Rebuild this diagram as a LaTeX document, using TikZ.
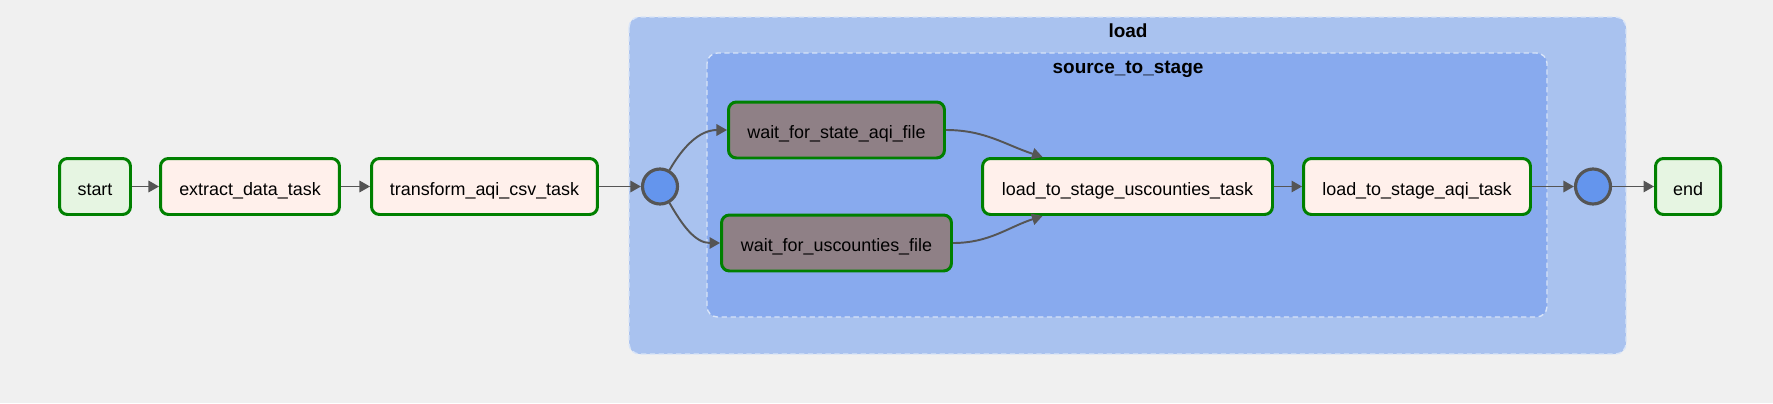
\documentclass[tikz,border=0pt]{standalone}
\usepackage{fontspec}
\setmainfont{Liberation Sans}
\usetikzlibrary{arrows.meta}
\definecolor{bggray}{HTML}{F0F0F0}
\definecolor{loadfill}{HTML}{A9C2EF}
\definecolor{stagefill}{HTML}{88AAEE}
\definecolor{taskfill}{HTML}{FFF0EB}
\definecolor{endfill}{HTML}{E6F5E2}
\definecolor{sensorfill}{HTML}{8F8086}
\definecolor{joinfill}{HTML}{6495ED}
\definecolor{okgreen}{HTML}{008000}
\definecolor{edgegray}{HTML}{555555}
\tikzset{
  task/.style={draw=okgreen,line width=1.7pt,rounded corners=4.5pt,fill=taskfill,
    minimum height=1.12cm,inner sep=0pt,text height=1em,text depth=0pt},
  endpt/.style={task,fill=endfill},
  sensor/.style={task,fill=sensorfill},
  joinpt/.style={circle,draw=edgegray,line width=1.8pt,fill=joinfill,minimum size=.7cm,inner sep=0pt},
  group/.style={draw=white!55!loadfill,line width=.8pt,dash pattern=on 3pt off 2pt,rounded corners=6pt},
  grouptitle/.style={anchor=base,font=\fontsize{10.8}{13}\selectfont\bfseries,inner sep=0pt},
  edge/.style={->,draw=edgegray,line width=1.1pt}
}
\begin{document}
\begin{tikzpicture}[x=.02cm,y=-.02cm,>={Triangle[length=6pt,width=6.5pt]},font=\fontsize{10.2}{12}\selectfont]
  \fill[bggray] (0,0) rectangle (1773,403);
  \useasboundingbox (0,0) rectangle (1773,403);
  % task groups
  \path[group,fill=loadfill] (629,17) rectangle (1626,354);
  \node[grouptitle] (loadtitle) at (1128,37) {load};
  \path[group,fill=stagefill] (707,53) rectangle (1547,317);
  \node[grouptitle] (stagetitle) at (1128,73) {source\_to\_stage};
  % tasks
  \node[endpt,minimum width=1.42cm] (start) at (95,186.5) {start};
  \node[task,minimum width=3.58cm] (extract) at (250,186.5) {extract\_data\_task};
  \node[task,minimum width=4.52cm] (transform) at (484.5,186.5) {transform\_aqi\_csv\_task};
  \node[joinpt] (loadin) at (660,186.5) {};
  \node[sensor,minimum width=4.32cm] (statefile) at (836.5,130) {wait\_for\_state\_aqi\_file};
  \node[sensor,minimum width=4.6cm] (countyfile) at (836.5,243) {wait\_for\_uscounties\_file};
  \node[task,minimum width=5.8cm] (stagecounty) at (1127.5,186.5) {load\_to\_stage\_uscounties\_task};
  \node[task,minimum width=4.54cm] (stageaqi) at (1417,186.5) {load\_to\_stage\_aqi\_task};
  \node[joinpt] (loadout) at (1593,186.5) {};
  \node[endpt,minimum width=1.3cm] (end) at (1688,186.5) {end};
  % edges
  \draw[edge] (start) -- (extract);
  \draw[edge] (extract) -- (transform);
  \draw[edge] (transform) -- (loadin);
  \draw[edge] (loadin) to[out=60,in=180] (statefile.west);
  \draw[edge] (loadin) to[out=-60,in=180] (countyfile.west);
  \draw[edge] (statefile.east) to[out=0,in=162] ([xshift=-1.7cm]stagecounty.north);
  \draw[edge] (countyfile.east) to[out=0,in=198] ([xshift=-1.7cm]stagecounty.south);
  \draw[edge] (stagecounty) -- (stageaqi);
  \draw[edge] (stageaqi) -- (loadout);
  \draw[edge] (loadout) -- (end);
\end{tikzpicture}
\end{document}
